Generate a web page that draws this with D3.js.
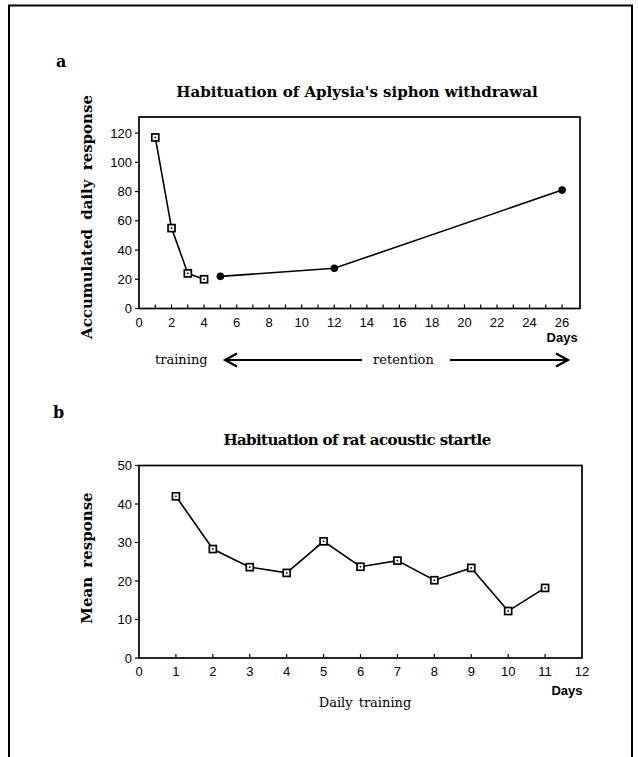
<!DOCTYPE html>
<html>
<head>
<meta charset="utf-8">
<script src="https://cdn.jsdelivr.net/npm/d3@7"></script>
<style>
  body { margin: 0; background: #fff; }
  .serif { font-family: "DejaVu Serif", "Liberation Serif", serif; }
  .sans { font-family: "Liberation Sans", Arial, sans-serif; }
</style>
</head>
<body>
<script>
// panel a: Aplysia siphon withdrawal
var trainDays = [1, 2, 3, 4];
var trainResp = [117, 55, 24, 20];
var retDays = [5, 12, 26];
var retResp = [22, 27.5, 81];
var aXTicks = [0, 2, 4, 6, 8, 10, 12, 14, 16, 18, 20, 22, 24, 26];
var aYTicks = [0, 20, 40, 60, 80, 100, 120];

// panel b: rat acoustic startle
var ratDays = [1, 2, 3, 4, 5, 6, 7, 8, 9, 10, 11];
var ratResp = [42, 28.3, 23.6, 22.1, 30.3, 23.7, 25.3, 20.2, 23.4, 12.2, 18.2];
var bXTicks = [0, 1, 2, 3, 4, 5, 6, 7, 8, 9, 10, 11, 12];
var bYTicks = [0, 10, 20, 30, 40, 50];

var W = 638, H = 757;
var svg = d3.select("body").append("svg")
  .attr("width", W).attr("height", H);

// outer page frame
svg.append("path")
  .attr("d", "M9," + H + "V5.5H632V" + H)
  .attr("fill", "none").attr("stroke", "#000").attr("stroke-width", 2);

function square(g, x, y) {
  g.append("rect").attr("x", x - 3.5).attr("y", y - 3.5)
    .attr("width", 7).attr("height", 7)
    .attr("fill", "#fff").attr("stroke", "#000").attr("stroke-width", 1.7);
  g.append("rect").attr("x", x - 0.8).attr("y", y - 0.8)
    .attr("width", 1.6).attr("height", 1.6).attr("fill", "#000");
}

function frame(g, x, y) {
  var x0 = x.range()[0], x1 = x.range()[1], y0 = y.range()[0], y1 = y.range()[1];
  g.append("rect").attr("x", x0).attr("y", y1)
    .attr("width", x1 - x0).attr("height", y0 - y1)
    .attr("fill", "none").attr("stroke", "#000").attr("stroke-width", 1.7);
}

function axes(g, x, y, xTicks, yTicks, minor) {
  var y0 = y.range()[0], x0 = x.range()[0];
  // inward ticks on bottom axis
  g.selectAll(".mt").data(minor).enter().append("line")
    .attr("x1", function (d) { return x(d); }).attr("x2", function (d) { return x(d); })
    .attr("y1", y0).attr("y2", y0 - 4)
    .attr("stroke", "#000").attr("stroke-width", 1.2);
  g.selectAll(".xl").data(xTicks).enter().append("text")
    .attr("class", "sans").attr("font-size", 13)
    .attr("x", function (d) { return x(d); }).attr("y", y0 + 18)
    .attr("text-anchor", "middle").text(function (d) { return d; });
  // outward ticks on left axis
  g.selectAll(".yt").data(yTicks).enter().append("line")
    .attr("x1", x0 - 4).attr("x2", x0)
    .attr("y1", function (d) { return y(d); }).attr("y2", function (d) { return y(d); })
    .attr("stroke", "#000").attr("stroke-width", 1.2);
  g.selectAll(".yl").data(yTicks).enter().append("text")
    .attr("class", "sans").attr("font-size", 13)
    .attr("x", x0 - 7).attr("y", function (d) { return y(d) + 4.5; })
    .attr("text-anchor", "end").text(function (d) { return d; });
}

var line = d3.line();

// ---------- panel a ----------
var xa = d3.scaleLinear().domain([0, 27.1]).range([139, 580]);
var ya = d3.scaleLinear().domain([0, 131]).range([308.5, 117]);
var ga = svg.append("g");

ga.append("text").attr("class", "serif").attr("font-weight", "bold").attr("font-size", 16)
  .attr("x", 56).attr("y", 67).text("a");
ga.append("text").attr("class", "serif").attr("font-weight", "bold").attr("font-size", 15)
  .attr("x", 357).attr("y", 97).attr("text-anchor", "middle")
  .text("Habituation of Aplysia's siphon withdrawal");
ga.append("text").attr("class", "serif").attr("font-weight", "bold").attr("font-size", 15)
  .attr("word-spacing", 4)
  .attr("transform", "translate(92,217) rotate(-90)").attr("text-anchor", "middle")
  .text("Accumulated daily response");

frame(ga, xa, ya);
axes(ga, xa, ya, aXTicks, aYTicks, d3.range(1, 27));
ga.append("text").attr("class", "sans").attr("font-size", 13).attr("font-weight", "bold")
  .attr("x", xa(26)).attr("y", 342).attr("text-anchor", "middle").text("Days");

ga.append("path")
  .attr("d", line(trainDays.map(function (d, i) { return [xa(d), ya(trainResp[i])]; })))
  .attr("fill", "none").attr("stroke", "#000").attr("stroke-width", 1.6);
ga.append("path")
  .attr("d", line(retDays.map(function (d, i) { return [xa(d), ya(retResp[i])]; })))
  .attr("fill", "none").attr("stroke", "#000").attr("stroke-width", 1.6);
trainDays.forEach(function (d, i) { square(ga, xa(d), ya(trainResp[i])); });
ga.selectAll(".dot").data(retDays).enter().append("circle")
  .attr("cx", function (d) { return xa(d); })
  .attr("cy", function (d, i) { return ya(retResp[i]); })
  .attr("r", 3.8).attr("fill", "#000");

// training / retention arrows
ga.append("text").attr("class", "serif").attr("font-size", 13)
  .attr("x", 155).attr("y", 364).text("training");
ga.append("text").attr("class", "serif").attr("font-size", 13)
  .attr("x", 373).attr("y", 364).text("retention");
ga.append("path").attr("d", "M225,360H362M237,353.5L225,360L237,366.5")
  .attr("fill", "none").attr("stroke", "#000").attr("stroke-width", 2.2);
ga.append("path").attr("d", "M450,360H568M556,353.5L568,360L556,366.5")
  .attr("fill", "none").attr("stroke", "#000").attr("stroke-width", 2.2);

// ---------- panel b ----------
var xb = d3.scaleLinear().domain([0, 12]).range([139, 582]);
var yb = d3.scaleLinear().domain([0, 50]).range([658, 465.5]);
var gb = svg.append("g");

gb.append("text").attr("class", "serif").attr("font-weight", "bold").attr("font-size", 16)
  .attr("x", 53).attr("y", 418).text("b");
gb.append("text").attr("class", "serif").attr("font-weight", "bold").attr("font-size", 15)
  .attr("letter-spacing", -0.6)
  .attr("x", 357).attr("y", 445).attr("text-anchor", "middle")
  .text("Habituation of rat acoustic startle");
gb.append("text").attr("class", "serif").attr("font-weight", "bold").attr("font-size", 15)
  .attr("word-spacing", 4)
  .attr("transform", "translate(92,558) rotate(-90)").attr("text-anchor", "middle")
  .text("Mean response");

frame(gb, xb, yb);
axes(gb, xb, yb, bXTicks, bYTicks, d3.range(1, 12));
gb.append("text").attr("class", "sans").attr("font-size", 13).attr("font-weight", "bold")
  .attr("x", 567).attr("y", 695).attr("text-anchor", "middle").text("Days");
gb.append("text").attr("class", "serif").attr("font-size", 13)
  .attr("x", 365).attr("y", 707).attr("text-anchor", "middle").attr("word-spacing", 2)
  .text("Daily training");

gb.append("path")
  .attr("d", line(ratDays.map(function (d, i) { return [xb(d), yb(ratResp[i])]; })))
  .attr("fill", "none").attr("stroke", "#000").attr("stroke-width", 1.6);
ratDays.forEach(function (d, i) { square(gb, xb(d), yb(ratResp[i])); });
</script>
</body>
</html>
